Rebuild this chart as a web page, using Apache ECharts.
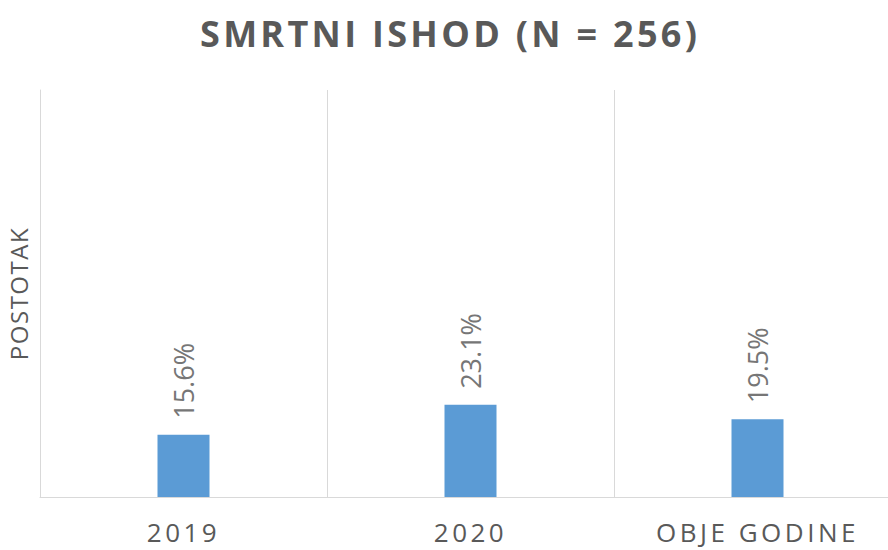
<!DOCTYPE html>
<html>
<head>
<meta charset="utf-8">
<script src="https://cdn.jsdelivr.net/npm/echarts@6/dist/echarts.min.js"></script>
<style>
  html, body { margin: 0; padding: 0; background: #fff; }
  #chart { width: 888px; height: 550px; }
  /* razmak slova kao u originalu (svg renderer) */
  #chart text[style*="36px"] { letter-spacing: 3.3px; }
  #chart text[style*="26px"] { letter-spacing: 3.5px; }
  #chart text[style*="24px"] { letter-spacing: 1.5px; }
</style>
</head>
<body>
<div id="chart"></div>
<script>
// kategorije i vrijednosti (postotak smrtnog ishoda)
const categories = ['2019', '2020', 'OBJE GODINE']
const values = [15.6, 23.1, 19.5]
const titleText = 'SMRTNI ISHOD (N = 256)'
const yName = 'POSTOTAK'

const chart = echarts.init(document.getElementById('chart'), null, { renderer: 'svg' })
chart.setOption({
  animation: false,
  title: {
    text: titleText,
    left: 195,
    top: 10,
    textStyle: {
      fontFamily: 'Open Sans',
      fontWeight: 'bold',
      fontSize: 36,
      color: '#595959'
    }
  },
  grid: {
    left: 40,
    width: 861,
    top: 90,
    bottom: 53,
    // graf je u originalu odrezan s desne strane
    outerBoundsMode: 'none'
  },
  xAxis: {
    type: 'category',
    data: categories,
    axisTick: { show: false },
    axisLine: { lineStyle: { color: '#d9d9d9', width: 1 } },
    splitLine: { show: true, lineStyle: { color: '#d9d9d9', width: 1 } },
    axisLabel: {
      fontFamily: 'Open Sans',
      fontSize: 26,
      lineHeight: 26,
      color: '#595959',
      margin: 22
    }
  },
  yAxis: {
    type: 'value',
    min: 0,
    max: 102,
    name: yName,
    nameLocation: 'middle',
    nameGap: 10,
    nameTextStyle: {
      fontFamily: 'Open Sans',
      fontSize: 24,
      color: '#595959'
    },
    axisLine: { show: true, lineStyle: { color: '#d9d9d9', width: 1 } },
    axisTick: { show: false },
    axisLabel: { show: false },
    splitLine: { show: false }
  },
  series: [
    {
      type: 'bar',
      data: values,
      barWidth: 52,
      itemStyle: { color: '#5b9bd5' },
      label: {
        show: true,
        position: 'top',
        rotate: 90,
        align: 'left',
        verticalAlign: 'middle',
        distance: 16,
        formatter: '{c}%',
        fontFamily: 'Open Sans',
        fontSize: 27,
        color: '#767676'
      }
    }
  ]
})
</script>
</body>
</html>
